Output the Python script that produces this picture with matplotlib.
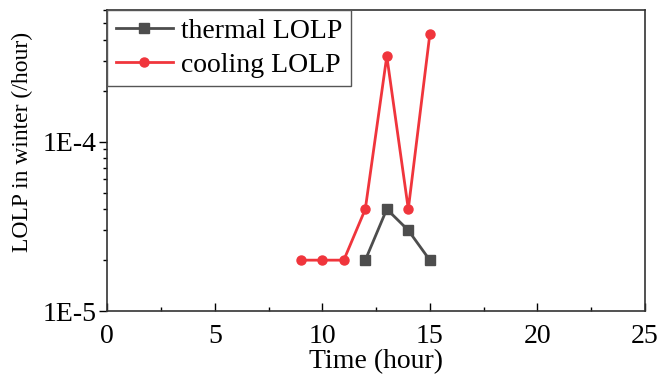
import matplotlib.pyplot as plt
from matplotlib.ticker import LogLocator, MultipleLocator, FixedLocator, FixedFormatter

plt.rcParams['font.family'] = ['Liberation Serif', 'DejaVu Serif']

thermal_hours = [12, 13, 14, 15]
thermal_lolp = [2e-5, 4e-5, 3e-5, 2e-5]
cooling_hours = [9, 10, 11, 12, 13, 14, 15]
cooling_lolp = [2e-5, 2e-5, 2e-5, 4e-5, 3.2e-4, 4e-5, 4.3e-4]

fig = plt.figure(figsize=(6.58, 3.79), dpi=100)
ax = fig.add_axes([0.163, 0.179, 0.817, 0.795])

ax.plot(thermal_hours, thermal_lolp, color='#4d4d4d', lw=2, marker='s', ms=6.5, label='thermal LOLP')
ax.plot(cooling_hours, cooling_lolp, color='#f0353c', lw=2, marker='o', ms=6.5, label='cooling LOLP')

ax.set_yscale('log')
ax.set_xlim(0, 25)
ax.set_ylim(1e-5, 6e-4)
ax.xaxis.set_major_locator(MultipleLocator(5))
ax.xaxis.set_minor_locator(MultipleLocator(2.5))
ax.yaxis.set_major_locator(FixedLocator([1e-5, 1e-4]))
ax.yaxis.set_major_formatter(FixedFormatter(['1E-5', '1E-4']))
ax.yaxis.set_minor_locator(LogLocator(base=10, subs=range(2, 10)))
ax.yaxis.set_minor_formatter(plt.NullFormatter())

ax.tick_params(axis='x', which='major', direction='in', length=6, width=1, labelsize=20, pad=9.5)
ax.tick_params(axis='x', which='minor', direction='in', length=3, width=1)
ax.tick_params(axis='y', which='major', direction='out', length=6, width=1, labelsize=20, pad=2)
ax.tick_params(axis='y', which='minor', direction='out', length=3, width=1)

for s in ax.spines.values():
    s.set_linewidth(1.2)
    s.set_color('#333333')

ax.set_xlabel('Time (hour)', fontsize=20, labelpad=0)
ax.set_ylabel('LOLP in winter (/hour)', fontsize=17)
ax.yaxis.set_label_coords(-0.1375, 0.561)

leg = ax.legend(loc='upper left', fontsize=20, borderaxespad=0, fancybox=False,
                edgecolor='#555555', framealpha=1, handlelength=2.05,
                borderpad=0.3, labelspacing=0.32, handletextpad=0.3)
leg.get_frame().set_linewidth(1)

fig.savefig('out.png', dpi=100)
